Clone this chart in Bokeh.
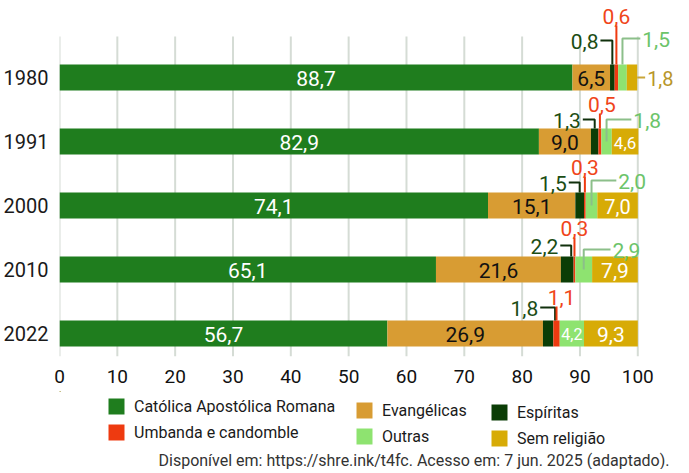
import numpy as np
from bokeh.plotting import figure
from bokeh.layouts import column
from bokeh.models import Range1d, Legend, LegendItem, FixedTicker, ColumnDataSource
from bokeh.embed import file_html
from bokeh.resources import INLINE
from bokeh.core.properties import value

# ---------------- data ----------------
years = ["1980", "1991", "2000", "2010", "2022"]
categories = ["Católica Apostólica Romana", "Evangélicas", "Espíritas",
              "Umbanda e candomble", "Outras", "Sem religião"]
catolica = [88.7, 82.9, 74.1, 65.1, 56.7]
evangelicas = [6.5, 9.0, 15.1, 21.6, 26.9]
espiritas = [0.8, 1.3, 1.5, 2.2, 1.8]
umbanda = [0.6, 0.5, 0.3, 0.3, 1.1]
outras = [1.5, 1.8, 2.0, 2.9, 4.2]
sem_religiao = [1.8, 4.6, 7.0, 7.9, 9.3]
x_ticks = [0, 10, 20, 30, 40, 50, 60, 70, 80, 90, 100]
caption = "Disponível em: https://shre.ink/t4fc. Acesso em: 7 jun. 2025 (adaptado)."

# ---------------- style / layout ----------------
colors = ["#1f7d1e", "#d89c33", "#0b3d06", "#ee3a10", "#8ee370", "#d7ab06"]
W = 673
TOP = 6
H1, H2 = 391, 78
LEFT = 54
PXX = 5.83      # px per percentage point
PXY = 64.0      # px per bar slot
BAR_H = 26 / PXY
NUM_FONT = "Roboto"

# leader-line geometry (pixels)
esp_rise = [24, 9, 10, 11, 13]
esp_len = [12, 12, 11, 11, 15]
esp_dx = [0, 0, 0, 4, 7]
umb_label = [49, 25, 26, 29, 24]
umb_dx = [0, 2, 0, 0, 5]
out_rise = [26, 9, 12, 7]
out_from = [13, 0, 0, 0]
out_len = [18, 25, 25, 27]
sem_in_size = ["17px", "20px", "21px", "21px"]

# legend placement inside the lower strip (pixels, relative to its frame)
legend_cols = [[0, 3], [1, 4], [2, 5]]
legend_x = [47, 295, 430]
legend_y = [27, 23, 21]


def fmt(v):
    return f"{v:.1f}".replace(".", ",")


series = [catolica, evangelicas, espiritas, umbanda, outras, sem_religiao]
S = np.array(series)
rights = np.cumsum(S, axis=0)
lefts = rights - S
mids = (lefts + rights) / 2
ypos = np.arange(len(years))
ytop = ypos - BAR_H / 2

p = figure(width=W, height=H1, output_backend="svg", toolbar_location=None,
           x_range=Range1d(0, (W - LEFT) / PXX), y_range=Range1d(4.36, -1.11),
           min_border_left=LEFT, min_border_right=0, min_border_top=TOP,
           min_border_bottom=H1 - 350 - TOP)
p.title.visible = False
p.outline_line_color = None
p.xgrid.visible = False
p.ygrid.visible = False

# grid lines
p.segment(x0=x_ticks, x1=x_ticks, y0=-0.64, y1=4.36, line_color="#d5dcd5", line_width=2)

# stacked bars
for k in range(len(series)):
    src = ColumnDataSource(dict(y=ypos, left=lefts[k], right=rights[k]))
    p.hbar(y="y", left="left", right="right", height=BAR_H, source=src,
           fill_color=colors[k], line_color=None)

# inside labels
p.text(x=mids[0], y=ypos, text=[fmt(v) for v in catolica], text_align="center",
       text_baseline="middle", text_color="white", text_font=value(NUM_FONT),
       text_font_size="21px", y_offset=1)
p.text(x=mids[1], y=ypos, text=[fmt(v) for v in evangelicas], text_align="center",
       text_baseline="middle", text_color="#111111", text_font=value(NUM_FONT),
       text_font_size="21px", y_offset=1)
src_sem = ColumnDataSource(dict(x=mids[5][1:], y=ypos[1:],
                                t=[fmt(v) for v in sem_religiao[1:]], s=sem_in_size))
p.text(x="x", y="y", text="t", text_font_size="s", source=src_sem, text_align="center",
       text_baseline="middle", text_color="white", text_font=value(NUM_FONT), y_offset=1)
p.text(x=[mids[4][4]], y=[ypos[4]], text=[fmt(outras[4])], text_align="center",
       text_baseline="middle", text_color="white", text_font=value(NUM_FONT),
       text_font_size="16px", y_offset=1)

# Espíritas leaders
xs, ys, tx, ty = [], [], [], []
for i in range(len(years)):
    xm = mids[2][i] + esp_dx[i] / PXX
    yl = ytop[i] - esp_rise[i] / PXY
    xs.append([xm - esp_len[i] / PXX, xm, xm])
    ys.append([yl, yl, ytop[i]])
    tx.append(xm - (esp_len[i] + 2) / PXX)
    ty.append(yl)
p.multi_line(xs=xs, ys=ys, line_color="#10300c", line_width=2)
p.text(x=tx, y=ty, text=[fmt(v) for v in espiritas], text_align="right",
       text_baseline="middle", text_color="#1b4d14", text_font=value(NUM_FONT),
       text_font_size="21px", y_offset=1)

# Umbanda leaders
xs, ys, tx, ty = [], [], [], []
for i in range(len(years)):
    xm = mids[3][i]
    xs.append([xm, xm])
    ys.append([ytop[i], ytop[i] - (umb_label[i] - 10) / PXY])
    tx.append(xm + umb_dx[i] / PXX)
    ty.append(ytop[i] - umb_label[i] / PXY)
p.multi_line(xs=xs, ys=ys, line_color="#ee3a10", line_width=2)
p.text(x=tx, y=ty, text=[fmt(v) for v in umbanda], text_align="center",
       text_baseline="middle", text_color="#f0451a", text_font=value(NUM_FONT),
       text_font_size="21px", y_offset=1)

# Outras leaders
xs, ys, tx, ty = [], [], [], []
for i in range(4):
    xm = mids[4][i]
    yl = ytop[i] - out_rise[i] / PXY
    xs.append([xm, xm, xm + out_len[i] / PXX])
    ys.append([ypos[i] - out_from[i] / PXY, yl, yl])
    tx.append(xm + (out_len[i] + 2) / PXX)
    ty.append(yl)
p.multi_line(xs=xs, ys=ys, line_color="#8cbf8a", line_width=2)
p.text(x=tx, y=ty, text=[fmt(v) for v in outras[:4]], text_align="left",
       text_baseline="middle", text_color="#6cc46a", text_font=value(NUM_FONT),
       text_font_size="21px", y_offset=1)

# Sem religião 1980 (outside)
xe = rights[5][0]
p.multi_line(xs=[[xe, xe + 8 / PXX]], ys=[[ypos[0], ypos[0]]], line_color="#c9a63a", line_width=2)
p.text(x=[xe + 10 / PXX], y=[ypos[0]], text=[fmt(sem_religiao[0])], text_align="left",
       text_baseline="middle", text_color="#b8962a", text_font=value(NUM_FONT),
       text_font_size="20px", y_offset=1)

# axes
p.xaxis.ticker = FixedTicker(ticks=x_ticks)
p.xaxis.axis_line_color = None
p.xaxis.major_tick_line_color = None
p.xaxis.minor_tick_line_color = None
p.xaxis.major_label_text_font = NUM_FONT
p.xaxis.major_label_text_font_size = "19px"
p.xaxis.major_label_text_color = "#111111"
p.xaxis.major_label_standoff = 7

p.yaxis.ticker = FixedTicker(ticks=list(ypos))
p.yaxis.major_label_overrides = {int(i): y for i, y in zip(ypos, years)}
p.yaxis.axis_line_color = None
p.yaxis.major_tick_line_color = None
p.yaxis.minor_tick_line_color = None
p.yaxis.major_label_text_font = NUM_FONT
p.yaxis.major_label_text_font_size = "20px"
p.yaxis.major_label_text_color = "#1a1a1a"
p.yaxis.major_label_standoff = 5

# ---------------- legend + caption strip ----------------
p2 = figure(width=W, height=H2, output_backend="svg", toolbar_location=None,
            x_range=Range1d(0, W - LEFT), y_range=Range1d(H2, 0),
            x_axis_location=None, y_axis_location=None,
            min_border_left=LEFT, min_border_right=0, min_border_top=0, min_border_bottom=0)
p2.title.visible = False
p2.grid.visible = False
p2.outline_line_color = None

swatches = []
for k in range(len(series)):
    r = p2.hbar(y=[-1000], left=[0], right=[1], height=1, fill_color=colors[k], line_color=None)
    swatches.append(r)

for col, lx, ly in zip(legend_cols, legend_x, legend_y):
    items = [LegendItem(label=categories[k], renderers=[swatches[k]]) for k in col]
    lg = Legend(items=items, orientation="vertical", location=(lx, ly),
                glyph_width=20, glyph_height=20, label_standoff=8, spacing=6,
                padding=0, margin=0, border_line_color=None, background_fill_alpha=0,
                label_text_font=NUM_FONT, label_text_font_size="16px",
                label_text_color="#1a1a1a", label_height=20)
    p2.add_layout(lg, "center")

p2.text(x=[W - LEFT - 4], y=[H2], text=[caption], text_align="right", text_baseline="bottom",
        text_font=value(NUM_FONT), text_font_size="16px", text_color="#333333")

open("out.html", "w").write(file_html(column(p, p2, spacing=0), INLINE))
